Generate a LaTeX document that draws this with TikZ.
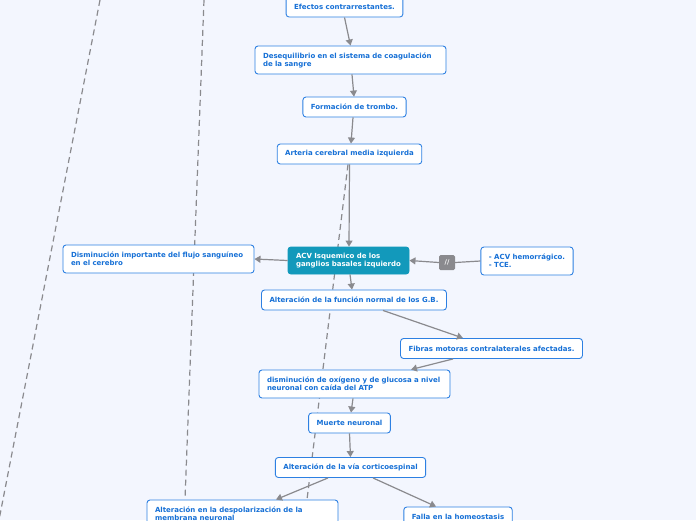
\documentclass[tikz,border=0pt]{standalone}
\usepackage{fontspec}
\setmainfont{DejaVu Sans}
\usetikzlibrary{arrows.meta,backgrounds}
\definecolor{bgc}{RGB}{243,246,254}
\definecolor{txtc}{RGB}{22,112,214}
\definecolor{brdc}{RGB}{45,128,226}
\definecolor{tealc}{RGB}{18,153,187}
\definecolor{linec}{RGB}{138,138,142}
\tikzset{
  topic/.style={draw=brdc, line width=0.9pt, fill=white, rounded corners=3pt,
    font=\fontsize{7}{8}\selectfont\bfseries, text=txtc, align=left,
    inner xsep=8pt, inner ysep=0pt, anchor=center},
  central/.style={topic, fill=tealc, draw=tealc, text=white},
  slashbox/.style={fill=linec, rounded corners=1.5pt, text=white,
    font=\fontsize{6.5}{7}\selectfont\bfseries, inner sep=0pt,
    minimum width=16pt, minimum height=15pt},
  conn/.style={draw=linec, line width=1.2pt, -{Triangle[length=6pt,width=7pt]}},
  dashconn/.style={draw=linec, line width=1.2pt, dash pattern=on 6pt off 4pt},
}
\begin{document}
\begin{tikzpicture}[x=1pt,y=-1pt]
\useasboundingbox (0,0) rectangle (696,520);

% free ends of the dashed links
\coordinate (d1a) at (100,0);
\coordinate (d1b) at (-1,520);
\coordinate (d2a) at (204,0);

% nodes
\node[topic, minimum width=115pt, minimum height=20pt] (efectos) at (344.5,7) {Efectos contrarrestantes.};
\node[topic, minimum width=191pt, minimum height=28pt, text width=175pt] (deseq) at (350.5,60) {Desequilibrio en el sistema de coagulación\\de la sangre};
\node[topic, minimum width=103pt, minimum height=20pt] (trombo) at (354.5,107) {Formación de trombo.};
\node[topic, minimum width=143pt, minimum height=20pt] (arteria) at (349.5,154) {Arteria cerebral media izquierda};
\node[topic, minimum width=191pt, minimum height=28pt, text width=175pt] (flujo) at (158.5,259) {Disminución importante del flujo sanguíneo\\en el cerebro};
\node[topic, minimum width=92pt, minimum height=28pt] (hemo) at (527,261) {- ACV hemorrágico.\\- TCE.};
\node[topic, minimum width=184pt, minimum height=20pt] (altgb) at (354,300) {Alteración de la función normal de los G.B.};
\node[topic, minimum width=181pt, minimum height=20pt] (fibras) at (491.5,348.5) {Fibras motoras contralaterales afectadas.};
\node[topic, minimum width=191pt, minimum height=28pt, text width=175pt] (oxig) at (354.5,384) {disminución de oxígeno y de glucosa a nivel\\neuronal con caída del ATP};
\node[topic, minimum width=81pt, minimum height=20pt] (muerte) at (349.5,423) {Muerte neuronal};
\node[topic, minimum width=149pt, minimum height=20pt] (via) at (350.5,467.5) {Alteración de la vía corticoespinal};
\node[topic, minimum width=191pt, minimum height=28pt, text width=175pt] (despol) at (242.5,514) {Alteración en la despolarización de la\\membrana neuronal};
\node[topic, minimum width=108pt, minimum height=20pt] (falla) at (458,517) {Falla en la homeostasis};
\node[central, minimum width=121pt, minimum height=27pt, text width=105pt] (acv) at (348.5,260.5) {ACV Isquemico de los\\ganglios basales izquierdo};
\node[slashbox] (slash) at (447,262.5) {//};

% background and dashed links (behind boxes)
\begin{scope}[on background layer]
\fill[bgc] (0,0) rectangle (696,520);
\draw[dashconn] (d1a) -- (d1b);
\draw[dashconn] (d2a) -- ([xshift=-57.5pt]despol.north);
\draw[dashconn] ([xshift=-1.5pt]arteria.south) -- ([xshift=64.5pt]despol.north);
\end{scope}

% connectors
\draw[conn] (efectos.south) -- (deseq.north);
\draw[conn] ([xshift=1.5pt]deseq.south) -- ([xshift=-0.5pt]trombo.north);
\draw[conn] ([xshift=-1.5pt]trombo.south) -- ([xshift=1.5pt]arteria.north);
\draw[conn] (arteria.south) -- ([xshift=0.5pt]acv.north);
\draw[conn] (acv.west) -- (flujo.east);
\draw[linec, line width=1.2pt] (hemo.west) -- (slash.east);
\draw[conn] (slash.west) -- (acv.east);
\draw[conn] ([xshift=1.5pt]acv.south) -- ([xshift=-2pt]altgb.north);
\draw[conn] ([xshift=29pt]altgb.south) -- ([xshift=-28.5pt]fibras.north);
\draw[conn] ([xshift=-38.5pt]fibras.south) -- ([xshift=56.5pt]oxig.north);
\draw[conn] ([xshift=-1.5pt]oxig.south) -- ([xshift=1.5pt]muerte.north);
\draw[conn] (muerte.south) -- (via.north);
\draw[conn] ([xshift=-22.5pt]via.south) -- ([xshift=33.5pt]despol.north);
\draw[conn] ([xshift=22.5pt]via.south) -- ([xshift=-22pt]falla.north);
\end{tikzpicture}
\end{document}
